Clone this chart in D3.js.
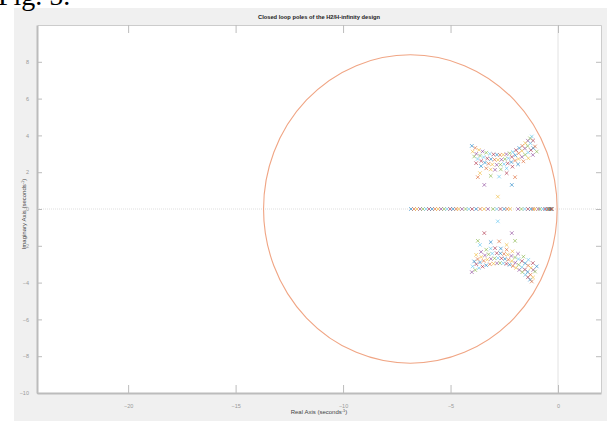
<!DOCTYPE html>
<html>
<head>
<meta charset="utf-8">
<script src="https://cdn.jsdelivr.net/npm/d3@7"></script>
<style>
  html, body { margin: 0; padding: 0; background: #fff; }
  svg { display: block; }
  text { font-family: "Liberation Sans", Arial, sans-serif; }
</style>
</head>
<body>
<svg id="chart" width="607" height="421"></svg>
<script>
// Axis ticks
const xTicks = [-20, -15, -10, -5, 0];
const yTicks = [-10, -8, -6, -4, -2, 0, 2, 4, 6, 8];

// Poles on the real axis
const realPoles = [-6.84, -6.70, -6.56, -6.42, -6.28, -6.14, -6.00, -5.86, -5.72, -5.58,
  -5.44, -5.30, -5.16, -5.02, -4.88, -4.74, -4.62, -4.47, -4.30, -4.15, -4.00,
  -3.81, -3.62, -3.44, -3.26, -3.02, -2.85, -2.68, -2.50, -2.36, -2.23,
  -1.86, -1.70, -1.55, -1.40, -1.25, -1.16, -1.07, -0.92, -0.84,
  -0.70, -0.60, -0.50, -0.45, -0.42, -0.40, -0.38, -0.35, -0.33, -0.30, -0.28];

// Complex poles (upper half plane; conjugates drawn below)
const branch1 = [[-4.01, 3.43], [-3.85, 3.32], [-3.68, 3.21], [-3.51, 3.13], [-3.34, 3.06],
  [-3.17, 3.00], [-3.00, 2.97], [-2.84, 2.95], [-2.70, 2.94], [-2.55, 2.95], [-2.40, 2.98],
  [-2.25, 3.03], [-2.10, 3.10], [-1.95, 3.20], [-1.80, 3.31], [-1.66, 3.43], [-1.52, 3.58],
  [-1.40, 3.71], [-1.30, 3.84], [-1.22, 3.94]];
const branch2 = [[-3.97, 3.12], [-3.80, 3.00], [-3.63, 2.90], [-3.46, 2.82], [-3.29, 2.75],
  [-3.12, 2.71], [-2.95, 2.68], [-2.79, 2.67], [-2.63, 2.68], [-2.47, 2.71], [-2.31, 2.76],
  [-2.15, 2.83], [-1.99, 2.92], [-1.83, 3.03], [-1.68, 3.16], [-1.54, 3.29], [-1.41, 3.42],
  [-1.28, 3.57], [-1.16, 3.72]];
const branch3 = [[-3.90, 2.85], [-3.74, 2.72], [-3.57, 2.61], [-3.40, 2.52], [-3.23, 2.46],
  [-3.06, 2.42], [-2.85, 2.40], [-2.68, 2.41], [-2.51, 2.44], [-2.34, 2.48], [-2.17, 2.55],
  [-2.00, 2.63], [-1.84, 2.72], [-1.68, 2.83], [-1.53, 2.95], [-1.39, 3.07], [-1.26, 3.20],
  [-1.15, 3.31], [-1.07, 3.40]];
const branch4 = [[-3.81, 2.49], [-3.58, 2.33], [-3.34, 2.21], [-3.13, 2.15], [-2.93, 2.13],
  [-2.66, 2.15], [-2.39, 2.21], [-2.12, 2.30], [-1.86, 2.43], [-1.61, 2.59], [-1.38, 2.76],
  [-1.17, 2.94], [-0.99, 3.12]];
const branch5 = [[-3.73, 1.73], [-3.63, 1.95], [-3.43, 1.31], [-3.13, 1.80], [-2.74, 1.76],
  [-2.39, 1.95], [-2.15, 1.31], [-2.00, 1.73], [-2.80, 0.67]];

// Boundary ellipse (data units)
const ellipseCenter = -6.87;
const ellipseRx = 6.83;
const ellipseRy = 8.38;

const palette = ['#0072BD', '#D95319', '#EDB120', '#7E2F8E', '#77AC30', '#4DBEEE', '#A2142F'];

const svg = d3.select('#chart');
const m = { left: 37, top: 25, right: 601, bottom: 393 };

// figure background
svg.append('rect').attr('x', 14).attr('y', 8).attr('width', 593).attr('height', 413).attr('fill', '#f0f0f0');

svg.append('text').attr('x', -2).attr('y', 5)
  .style('font-family', '"Liberation Serif", "Times New Roman", serif')
  .style('font-size', '28px').attr('fill', '#000').text('Fig. 5.');

const x = d3.scaleLinear().domain([-24.24, 2]).range([m.left, m.right]);
const y = d3.scaleLinear().domain([-10, 10]).range([m.bottom, m.top]);

svg.append('rect').attr('x', m.left).attr('y', m.top)
  .attr('width', m.right - m.left).attr('height', m.bottom - m.top).attr('fill', '#fff');

// zero lines
svg.append('line').attr('x1', m.left).attr('x2', m.right).attr('y1', y(0)).attr('y2', y(0))
  .attr('stroke', '#dedede').attr('stroke-width', 1).attr('stroke-dasharray', '1,1');
svg.append('line').attr('x1', x(0)).attr('x2', x(0)).attr('y1', m.top).attr('y2', m.bottom)
  .attr('stroke', '#e2e2e2').attr('stroke-width', 1);

// axes
const axisColor = '#bcbcbc';
const gx = svg.append('g').attr('transform', `translate(0,${m.bottom})`)
  .call(d3.axisBottom(x).tickValues(xTicks).tickSizeInner(-8).tickSizeOuter(0).tickPadding(11));
const gxTop = svg.append('g').attr('transform', `translate(0,${m.top})`)
  .call(d3.axisTop(x).tickValues(xTicks).tickSizeInner(-8).tickSizeOuter(0).tickFormat(''));
const gy = svg.append('g').attr('transform', `translate(${m.left},0)`)
  .call(d3.axisLeft(y).tickValues(yTicks).tickSizeInner(-5).tickSizeOuter(0).tickPadding(8));
const gyR = svg.append('g').attr('transform', `translate(${m.right},0)`)
  .call(d3.axisRight(y).tickValues(yTicks).tickSizeInner(-5).tickSizeOuter(0).tickFormat(''));

[gx, gxTop, gy, gyR].forEach(g => {
  g.select('.domain').attr('stroke', axisColor);
  g.selectAll('.tick line').attr('stroke', axisColor);
  g.selectAll('.tick text').attr('fill', '#999').style('font-size', '5.5px');
});
gx.select('.domain').attr('stroke-width', 2);
gy.select('.domain').attr('stroke-width', 2);
gxTop.select('.domain').attr('stroke', '#cccccc');
gyR.select('.domain').attr('stroke', '#cccccc');

// ellipse boundary
svg.append('ellipse')
  .attr('cx', x(ellipseCenter)).attr('cy', y(0))
  .attr('rx', x(ellipseCenter + ellipseRx) - x(ellipseCenter))
  .attr('ry', y(0) - y(ellipseRy))
  .attr('fill', 'none').attr('stroke', '#f0a584').attr('stroke-width', 1.1);

// pole markers
const poles = [];
realPoles.forEach((re, i) => poles.push({ re, im: 0, c: palette[i % 7] }));
[branch1, branch2, branch3, branch4, branch5].forEach((br, b) => {
  br.forEach(([re, im], i) => {
    const c = palette[(i + b * 2) % 7];
    poles.push({ re, im, c });
    poles.push({ re, im: -im, c: palette[(i + b * 2 + 3) % 7] });
  });
});

const s = 1.8;
svg.append('g').selectAll('path').data(poles).enter().append('path')
  .attr('d', d => {
    const px = x(d.re), py = y(d.im);
    return `M${px - s},${py - s}L${px + s},${py + s}M${px - s},${py + s}L${px + s},${py - s}`;
  })
  .attr('stroke', d => d.c).attr('stroke-width', 1).attr('opacity', 0.55).attr('fill', 'none');

// title and labels
svg.append('text').attr('x', (m.left + m.right) / 2).attr('y', 19)
  .attr('text-anchor', 'middle').style('font-size', '6px').style('font-weight', 'bold')
  .attr('fill', '#222').attr('textLength', 122).attr('lengthAdjust', 'spacingAndGlyphs')
  .text('Closed loop poles of the H2/H-infinity design');

const xl = svg.append('text').attr('x', (m.left + m.right) / 2).attr('y', 414)
  .attr('text-anchor', 'middle').style('font-size', '6px').attr('fill', '#444');
xl.append('tspan').text('Real Axis (seconds');
xl.append('tspan').attr('dy', -2.5).style('font-size', '4px').text('-1');
xl.append('tspan').attr('dy', 2.5).text(')');

const yl = svg.append('text').attr('transform', `translate(26,${y(0) + 5}) rotate(-90)`)
  .attr('text-anchor', 'middle').style('font-size', '6px').attr('fill', '#444');
yl.append('tspan').text('Imaginary Axis (seconds');
yl.append('tspan').attr('dy', -2.5).style('font-size', '4px').text('-1');
yl.append('tspan').attr('dy', 2.5).text(')');
</script>
</body>
</html>
